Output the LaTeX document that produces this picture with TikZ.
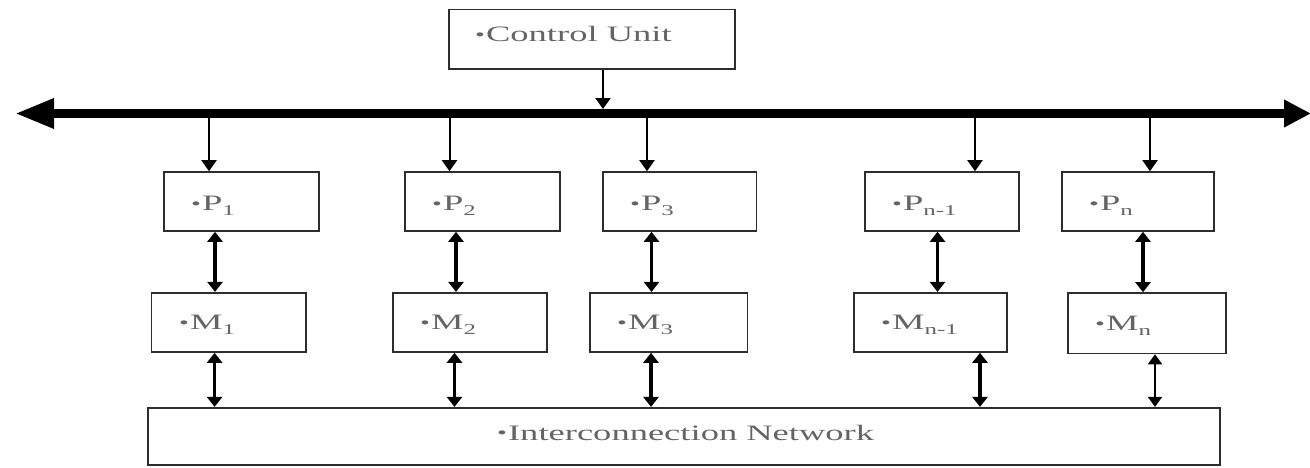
\documentclass[tikz,border=0pt]{standalone}
\usepackage{fontspec}
\setmainfont{Liberation Serif}[FakeStretch=1.66]
\usetikzlibrary{arrows.meta}
\definecolor{txtgray}{RGB}{100,100,100}
\definecolor{boxgray}{RGB}{45,45,45}
% small raised bullet in front of each label
\newcommand{\dotmark}{\raisebox{1.5pt}{\fontsize{17}{17}\selectfont •}\hspace{1pt}}
% lowered index after P and M
\newcommand{\idx}[1]{\raisebox{-4.5pt}{\fontsize{15}{15}\selectfont #1}}
\tikzset{
  box/.style={draw=boxgray, line width=1.6pt, rectangle, inner sep=0pt},
  lbl/.style={anchor=base west, inner sep=0pt, text=txtgray, font=\fontsize{22}{26}\selectfont},
  tap/.style={line width=2pt, -{Triangle[length=11pt,width=15pt]}},
  dbl/.style={line width=3.5pt, {Triangle[length=10pt,width=15pt]}-{Triangle[length=10pt,width=15pt]}},
  dblthin/.style={line width=2pt, {Triangle[length=10pt,width=14pt]}-{Triangle[length=10pt,width=14pt]}},
  bus/.style={line width=9pt, {Triangle[length=39pt,width=28pt]}-{Triangle[length=27pt,width=26pt]}}
}
\begin{document}
\begin{tikzpicture}[x=1pt,y=-1pt]
\useasboundingbox (0,0) rectangle (1310,467);

% control unit
\node[box, minimum width=286pt, minimum height=59.5pt] (CU) at (592,39.25) {};
\node[lbl] (CUt) at (475,41.7) {\dotmark Control Unit};

% processors
\node[box, minimum width=155pt, minimum height=59pt] (P1) at (241.5,201.5) {};
\node[box, minimum width=155pt, minimum height=59pt] (P2) at (482.5,201.5) {};
\node[box, minimum width=153.5pt, minimum height=59pt] (P3) at (679.75,201.5) {};
\node[box, minimum width=154pt, minimum height=59pt] (Pm) at (942,201.5) {};
\node[box, minimum width=152pt, minimum height=59pt] (Pn) at (1138,201.5) {};
\node[lbl] (P1t) at (191,210.5) {\dotmark P\idx{1}};
\node[lbl] (P2t) at (432,210.5) {\dotmark P\idx{2}};
\node[lbl] (P3t) at (630,210.5) {\dotmark P\idx{3}};
\node[lbl] (Pmt) at (892,210.5) {\dotmark P\idx{n-1}};
\node[lbl] (Pnt) at (1089,210.5) {\dotmark P\idx{n}};

% memories
\node[box, minimum width=154.5pt, minimum height=59.3pt] (M1) at (228.75,322.35) {};
\node[box, minimum width=154.3pt, minimum height=59.3pt] (M2) at (469.85,322.35) {};
\node[box, minimum width=157.6pt, minimum height=59.3pt] (M3) at (668.8,322.35) {};
\node[box, minimum width=153.3pt, minimum height=59.3pt] (Mm) at (930.35,322.35) {};
\node[box, minimum width=157.7pt, minimum height=60.5pt] (Mn) at (1146.85,323.25) {};
\node[lbl] (M1t) at (179,329.5) {\dotmark M\idx{1}};
\node[lbl] (M2t) at (420,329.5) {\dotmark M\idx{2}};
\node[lbl] (M3t) at (617,329.5) {\dotmark M\idx{3}};
\node[lbl] (Mmt) at (881,329.5) {\dotmark M\idx{n-1}};
\node[lbl] (Mnt) at (1095,330.5) {\dotmark M\idx{n}};

% interconnection network
\node[box, minimum width=1072pt, minimum height=57.3pt] (Net) at (684,436.35) {};
\node[lbl] (Nett) at (497,440) {\dotmark Interconnection Network};

% broadcast bus
\coordinate (busL) at (15,113.5);
\coordinate (busR) at (1311,113.5);
\draw[bus] (busL) -- (busR);

% control unit onto the bus
\coordinate (cu) at (603,109);
\draw[tap] (CU.south -| cu) -- (cu);

% bus taps down to the processors
\coordinate (t1) at (209,118);
\coordinate (t2) at (449.5,118);
\coordinate (t3) at (647,118);
\coordinate (t4) at (975,118);
\coordinate (t5) at (1150,118);
\draw[tap] (t1) -- (t1 |- P1.north);
\draw[tap] (t2) -- (t2 |- P2.north);
\draw[tap] (t3) -- (t3 |- P3.north);
\draw[tap] (t4) -- (t4 |- Pm.north);
\draw[tap] (t5) -- (t5 |- Pn.north);

% processor <-> memory
\coordinate (d1) at (215,0);
\coordinate (d2) at (456,0);
\coordinate (d3) at (651.5,0);
\coordinate (d4) at (937.5,0);
\coordinate (d5) at (1143,0);
\draw[dbl] (P1.south -| d1) -- (M1.north -| d1);
\draw[dbl] (P2.south -| d2) -- (M2.north -| d2);
\draw[dbl] (P3.south -| d3) -- (M3.north -| d3);
\draw[dbl] (Pm.south -| d4) -- (Mm.north -| d4);
\draw[dbl] (Pn.south -| d5) -- (Mn.north -| d5);

% memory <-> network
\coordinate (e1) at (214.6,0);
\coordinate (e2) at (454.5,0);
\coordinate (e3) at (651,0);
\coordinate (e4) at (980,0);
\coordinate (e5) at (1155,0);
\draw[dbl] (M1.south -| e1) -- (Net.north -| e1);
\draw[dbl] (M2.south -| e2) -- (Net.north -| e2);
\draw[dbl] (M3.south -| e3) -- (Net.north -| e3);
\draw[dbl] (Mm.south -| e4) -- (Net.north -| e4);
\draw[dblthin] (Mn.south -| e5) -- (Net.north -| e5);
\end{tikzpicture}
\end{document}
